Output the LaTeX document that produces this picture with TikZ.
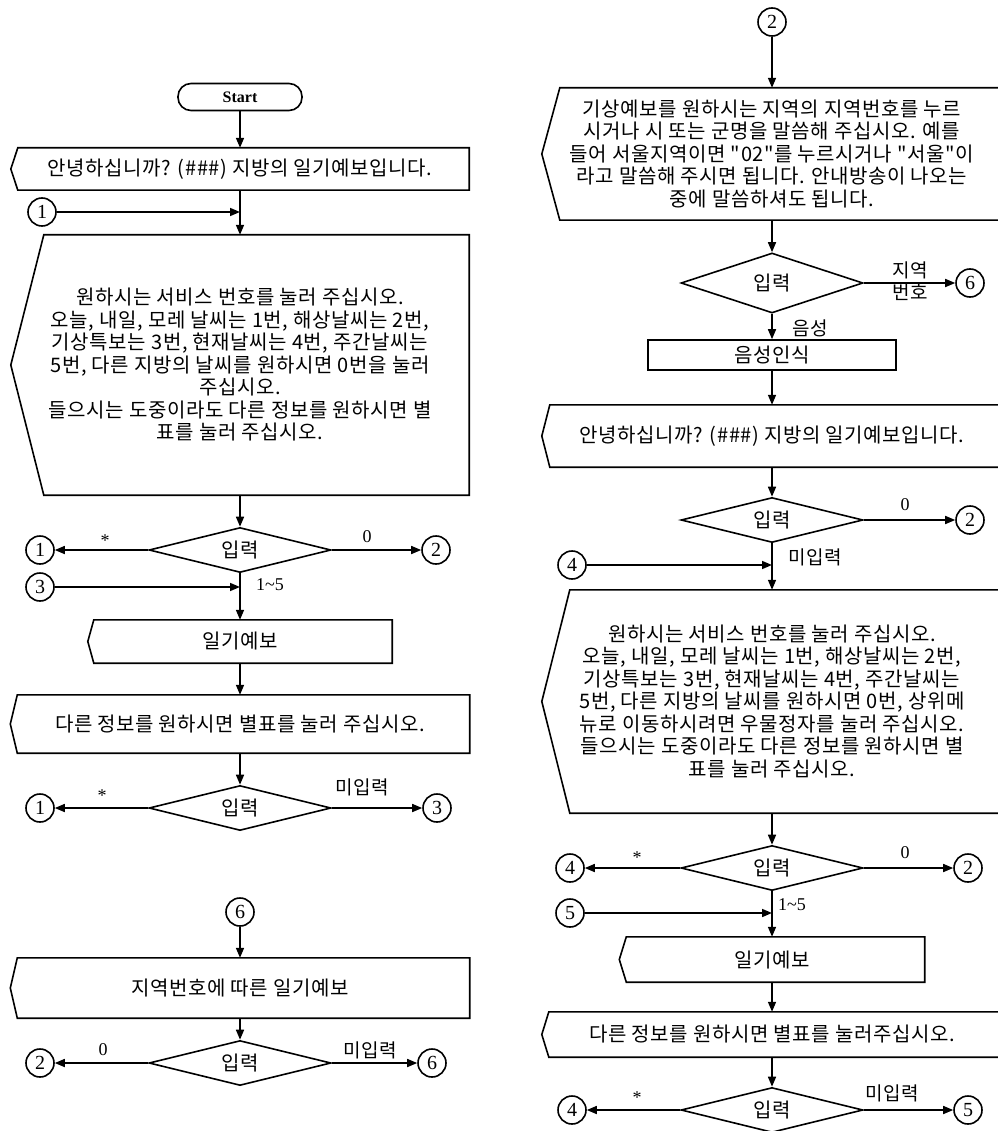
\documentclass[tikz,border=0pt]{standalone}
\usepackage{fontspec}
\setmainfont{Liberation Serif}
\newfontfamily\kr[LetterSpace=3]{Noto Sans CJK KR}
\usepackage{tikz}
\usetikzlibrary{arrows.meta,shapes.geometric}
\tikzset{
  flow/.style={line width=1.6pt},
  dispnode/.style={inner sep=0pt,align=center,font=\kr\fontsize{20}{22.5}\selectfont},
  decision/.style={diamond,draw,line width=1.6pt,aspect=4,inner sep=1pt,minimum width=182,minimum height=45,font=\kr\fontsize{20}{20}\selectfont},
  conn/.style={circle,draw,line width=1.6pt,minimum size=28,inner sep=0pt,font=\fontsize{20}{20}\selectfont},
  term/.style={draw,line width=1.6pt,rounded corners=13pt,minimum width=124,minimum height=27,inner sep=0pt,font=\bfseries\fontsize{16}{16}\selectfont},
  lab/.style={inner sep=0pt,font=\kr\fontsize{19}{22}\selectfont},
  numlab/.style={inner sep=0pt,font=\fontsize{18}{18}\selectfont}}
\newcommand{\dispframe}[2]{%
  \draw[flow] ([xshift=#2pt]#1.north west) -- (#1.north east) -- (#1.south east)
    -- ([xshift=#2pt]#1.south west) -- (#1.west) -- cycle;}

\begin{document}
\begin{tikzpicture}[x=1pt,y=-1pt,>={Triangle[length=10pt,width=8pt]}]
\fill[white] (0,0) rectangle (997,1131);
\useasboundingbox (0,0) rectangle (997,1131);
% left column
\node[term] (start) at (240,97) {Start};
\node[dispnode,minimum width=458,minimum height=42] (greet) at (240,169) {안녕하십니까? (\#\#\#) 지방의 일기예보입니다.};
\dispframe{greet}{7}
\node[conn] (c1a) at (42,212) {1}; \coordinate (j1) at (240,212);
\node[dispnode,minimum width=458,minimum height=260] (menu) at (240,365) {원하시는 서비스 번호를 눌러 주십시오.\\오늘, 내일, 모레 날씨는 1번, 해상날씨는 2번,\\기상특보는 3번, 현재날씨는 4번, 주간날씨는\\5번, 다른 지방의 날씨를 원하시면 0번을 눌러\\주십시오.\\들으시는 도중이라도 다른 정보를 원하시면 별\\표를 눌러 주십시오.};
\dispframe{menu}{33}
\node[decision] (in1) at (240,550) {입력};
\node[conn] (c1b) at (40,550) {1}; \node[conn] (c2a) at (436,550) {2};
\node[numlab] (s1) at (105,541) {*}; \node[numlab] (z1) at (367,537) {0};
\node[conn] (c3a) at (40,587) {3}; \coordinate (j3) at (240,587);
\node[numlab] (r1) at (270,585) {1\textasciitilde5};
\node[dispnode,minimum width=304,minimum height=43] (fc1) at (240,641.5) {일기예보};
\dispframe{fc1}{6}
\node[dispnode,minimum width=459,minimum height=58] (other1) at (240,724) {다른 정보를 원하시면 별표를 눌러 주십시오.};
\dispframe{other1}{7}
\node[decision] (in2) at (240,808) {입력};
\node[conn] (c1c) at (40,808) {1}; \node[conn] (c3b) at (437,808) {3};
\node[numlab] (s2) at (102,796) {*}; \node[lab] (n2) at (362,787) {미입력};
\node[conn] (c6a) at (240,912) {6};
\node[dispnode,minimum width=459,minimum height=60] (region) at (240,988) {지역번호에 따른 일기예보};
\dispframe{region}{7}
\node[decision] (in3) at (240,1063) {입력};
\node[conn] (c2b) at (40,1063) {2}; \node[conn] (c6b) at (432,1063) {6};
\node[numlab] (z3) at (103,1050) {0}; \node[lab] (n3) at (370,1050) {미입력};
% right column
\node[conn] (c2c) at (772,22) {2};
\node[dispnode,minimum width=460,minimum height=132] (ask) at (772,154) {기상예보를 원하시는 지역의 지역번호를 누르\\시거나 시 또는 군명을 말씀해 주십시오. 예를\\들어 서울지역이면 "02"를 누르시거나 "서울"이\\라고 말씀해 주시면 됩니다. 안내방송이 나오는\\중에 말씀하셔도 됩니다.};
\dispframe{ask}{18}
\node[decision,minimum height=60] (in4) at (772,283) {입력};
\node[conn] (c6c) at (970,283) {6};
\node[lab,align=center] (area) at (910,281) {지역\\번호};
\node[lab] (voice) at (810,328) {음성};
\node[draw,flow,minimum width=248,minimum height=30,inner sep=0pt,font=\kr\fontsize{20}{20}\selectfont] (asr) at (772,355) {음성인식};
\node[dispnode,minimum width=460,minimum height=62] (greet2) at (772,436) {안녕하십니까? (\#\#\#) 지방의 일기예보입니다.};
\dispframe{greet2}{8}
\node[decision] (in5) at (772,520) {입력};
\node[numlab] (z5) at (905,505) {0}; \node[conn] (c2d) at (970,520) {2};
\node[lab] (n5) at (815,557) {미입력};
\node[conn] (c4a) at (572,565) {4}; \coordinate (j4) at (772,565);
\node[dispnode,minimum width=460,minimum height=223] (menu2) at (772,701.5) {원하시는 서비스 번호를 눌러 주십시오.\\오늘, 내일, 모레 날씨는 1번, 해상날씨는 2번,\\기상특보는 3번, 현재날씨는 4번, 주간날씨는\\5번, 다른 지방의 날씨를 원하시면 0번, 상위메\\뉴로 이동하시려면 우물정자를 눌러 주십시오.\\들으시는 도중이라도 다른 정보를 원하시면 별\\표를 눌러 주십시오.};
\dispframe{menu2}{28}
\node[decision] (in6) at (772,868) {입력};
\node[conn] (c4b) at (570,868) {4}; \node[conn] (c2e) at (968,868) {2};
\node[numlab] (s6) at (637,858) {*}; \node[numlab] (z6) at (905,853) {0};
\node[conn] (c5a) at (570,913) {5}; \coordinate (j5) at (772,913);
\node[numlab] (r6) at (792,905) {1\textasciitilde5};
\node[dispnode,minimum width=305,minimum height=45] (fc2) at (772,959.5) {일기예보};
\dispframe{fc2}{7}
\node[dispnode,minimum width=460,minimum height=45] (other2) at (772,1034.5) {다른 정보를 원하시면 별표를 눌러주십시오.};
\dispframe{other2}{7}
\node[decision] (in7) at (772,1110) {입력};
\node[conn] (c4c) at (572,1110) {4}; \node[conn] (c5b) at (968,1110) {5};
\node[numlab] (s7) at (637,1098) {*}; \node[lab] (n7) at (892,1093) {미입력};
% connectors
\draw[flow,->] (start) -- (greet); \draw[flow,->] (greet) -- (menu);
\draw[flow,->] (c1a) -- (j1); \draw[flow,->] (menu) -- (in1);
\draw[flow,->] (in1) -- (c1b); \draw[flow,->] (in1) -- (c2a);
\draw[flow,->] (in1) -- (fc1); \draw[flow,->] (c3a) -- (j3);
\draw[flow,->] (fc1) -- (other1); \draw[flow,->] (other1) -- (in2);
\draw[flow,->] (in2) -- (c1c); \draw[flow,->] (in2) -- (c3b);
\draw[flow,->] (c6a) -- (region); \draw[flow,->] (region) -- (in3);
\draw[flow,->] (in3) -- (c2b); \draw[flow,->] (in3) -- (c6b);
\draw[flow,->] (c2c) -- (ask); \draw[flow,->] (ask) -- (in4);
\draw[flow,->] (in4) -- (c6c); \draw[flow,->] (in4) -- (asr);
\draw[flow,->] (asr) -- (greet2); \draw[flow,->] (greet2) -- (in5);
\draw[flow,->] (in5) -- (c2d); \draw[flow,->] (in5) -- (menu2);
\draw[flow,->] (c4a) -- (j4); \draw[flow,->] (menu2) -- (in6);
\draw[flow,->] (in6) -- (c4b); \draw[flow,->] (in6) -- (c2e);
\draw[flow,->] (in6) -- (fc2); \draw[flow,->] (c5a) -- (j5);
\draw[flow,->] (fc2) -- (other2); \draw[flow,->] (other2) -- (in7);
\draw[flow,->] (in7) -- (c4c); \draw[flow,->] (in7) -- (c5b);
\end{tikzpicture}
\end{document}
